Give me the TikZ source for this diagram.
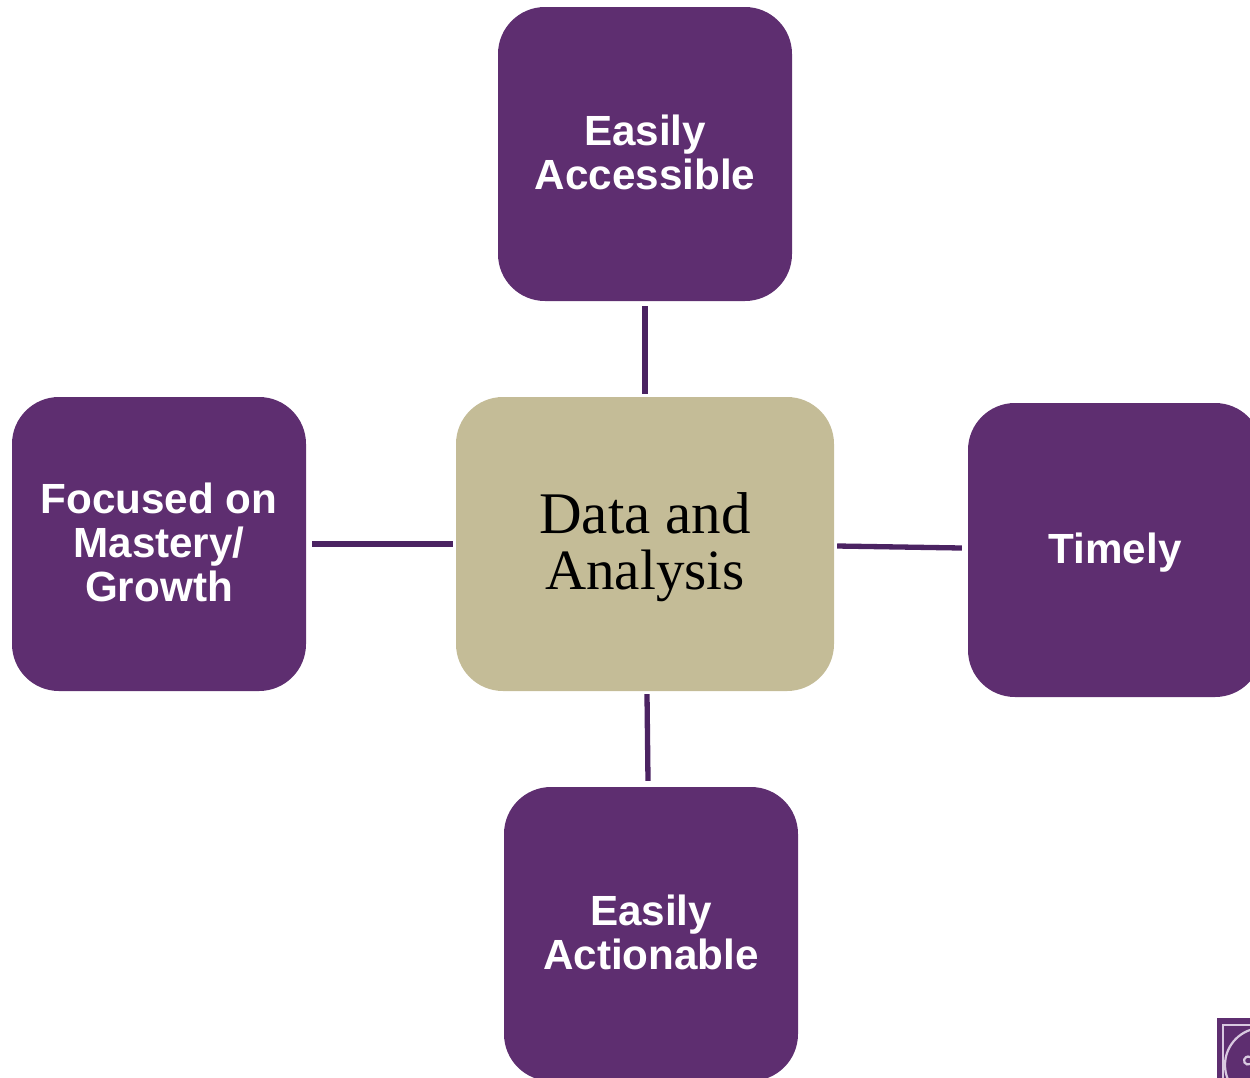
\documentclass[tikz,border=0pt]{standalone}
\usepackage{fontspec}
\setmainfont{Liberation Sans}
\newfontfamily\serifface{Liberation Serif}
\definecolor{boxpurple}{HTML}{5E2E70}
\definecolor{linepurple}{HTML}{4B2362}
\definecolor{centretan}{HTML}{C4BC97}
\definecolor{logolight}{HTML}{D9C9E0}
\newcommand{\boxtext}[2]{\raisebox{#1}[0pt][0pt]{\begin{tabular}{@{}c@{}}#2\end{tabular}}}
\tikzset{
    topic/.style={fill=boxpurple, text=white, rounded corners=47pt, minimum width=294pt, minimum height=294pt, inner sep=0pt, font=\fontsize{42.2}{44}\selectfont\bfseries},
    core/.style={fill=centretan, text=black, rounded corners=47pt, minimum width=378pt, minimum height=294pt, inner sep=0pt, font=\fontsize{59}{54}\selectfont\serifface},
    link/.style={color=linepurple, line width=5.3pt}
}
\begin{document}
\begin{tikzpicture}[x=1pt,y=-1pt]
    \useasboundingbox (0,0) rectangle (1250,1077);
    \node[core] (analysis) at (645,544) {\boxtext{-11.5pt}{Data and\\{\fontsize{57}{54}\selectfont Analysis}}};
    \node[topic] (accessible) at (645,154) {\boxtext{-11pt}{Easily\\Accessible}};
    \node[topic] (focused) at (159,544) {\boxtext{-11pt}{Focused on\\Mastery/\\Growth}};
    \node[topic] (timely) at (1115,550) {\boxtext{-10.5pt}{Timely}};
    \node[topic] (actionable) at (651,934) {\boxtext{-11pt}{Easily\\Actionable}};
    \draw[link] ([yshift=-5pt]accessible.south) -- ([yshift=3pt]analysis.north);
    \draw[link] ([xshift=6pt]focused.east) -- ([xshift=-3pt]analysis.west);
    \draw[link] ([shift={(3,2)}]analysis.east) -- ([shift={(-6,-2)}]timely.west);
    \draw[link] ([shift={(2,3)}]analysis.south) -- ([shift={(-3,-6)}]actionable.north);
    % logo in the corner
    \fill[boxpurple] (1217,1018) rectangle (1260,1087);
    \draw[logolight, line width=2.2pt] (1223,1085) -- (1223,1025) -- (1260,1025);
    \draw[logolight, line width=2.2pt] (1262,1065) circle (37);
    \draw[logolight, line width=2.2pt] (1250,1064) arc (60:300:4);
\end{tikzpicture}
\end{document}
